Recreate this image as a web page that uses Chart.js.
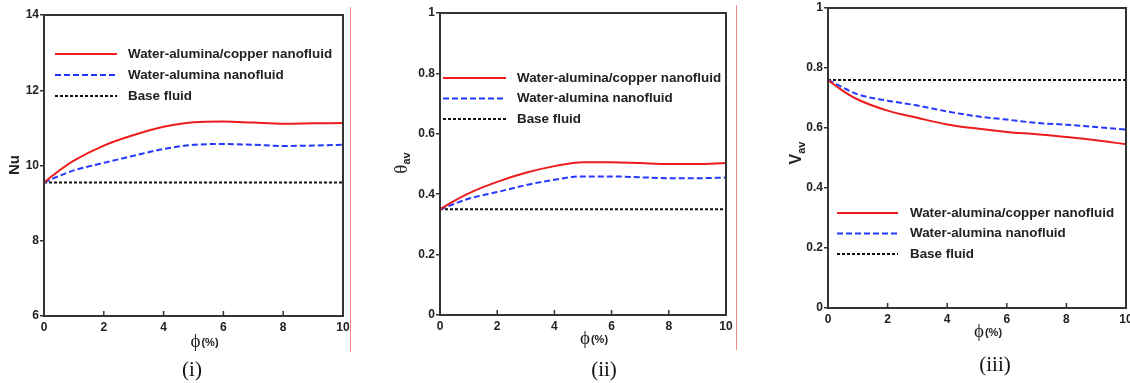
<!DOCTYPE html>
<html><head><meta charset="utf-8">
<script src="https://cdn.jsdelivr.net/npm/chart.js@4/dist/chart.umd.min.js"></script>
<style>
html,body{margin:0;padding:0;background:#fff;width:1130px;height:383px;overflow:hidden;position:relative}
canvas{position:absolute;top:0}
.cap{position:absolute;font-family:"Liberation Serif","Times New Roman",serif;font-size:21px;color:#111;transform:translate(-50%,-50%);white-space:nowrap}
.vline{position:absolute;width:1px;background:#f08a8a}
</style></head><body>
<canvas id="c1" width="370" height="383" style="left:0px"></canvas>
<canvas id="c2" width="370" height="383" style="left:380px"></canvas>
<canvas id="c3" width="370" height="383" style="left:760px"></canvas>
<div class="vline" style="left:350px;top:7px;height:345px"></div>
<div class="vline" style="left:736px;top:5px;height:345px"></div>
<div class="cap" style="left:192px;top:369px">(i)</div>
<div class="cap" style="left:604px;top:369px">(ii)</div>
<div class="cap" style="left:995px;top:364px">(iii)</div>
<script>
// ---- data ----
const phi = [0, 0.5, 1, 2, 3, 4, 5, 6, 7, 8, 9, 10];
const seriesNames = ["Water-alumina/copper nanofluid", "Water-alumina nanofluid", "Base fluid"];
const nuHybrid  = [9.55, 9.86, 10.13, 10.53, 10.81, 11.03, 11.15, 11.17, 11.14, 11.11, 11.12, 11.13];
const nuAlumina = [9.55, 9.72, 9.87, 10.07, 10.26, 10.44, 10.55, 10.57, 10.55, 10.52, 10.53, 10.55];
const nuBase    = [9.55, 9.55, 9.55, 9.55, 9.55, 9.55, 9.55, 9.55, 9.55, 9.55, 9.55, 9.55];
const thHybrid  = [0.35, 0.378, 0.403, 0.441, 0.471, 0.493, 0.506, 0.506, 0.503, 0.500, 0.500, 0.503];
const thAlumina = [0.35, 0.368, 0.385, 0.407, 0.430, 0.448, 0.459, 0.459, 0.456, 0.453, 0.453, 0.455];
const thBase    = [0.35, 0.35, 0.35, 0.35, 0.35, 0.35, 0.35, 0.35, 0.35, 0.35, 0.35, 0.35];
const vHybrid   = [0.76, 0.724, 0.695, 0.658, 0.634, 0.612, 0.598, 0.587, 0.579, 0.570, 0.559, 0.546];
const vAlumina  = [0.76, 0.735, 0.712, 0.691, 0.675, 0.655, 0.639, 0.628, 0.617, 0.611, 0.603, 0.595];
const vBase     = [0.76, 0.76, 0.76, 0.76, 0.76, 0.76, 0.76, 0.76, 0.76, 0.76, 0.76, 0.76];
const xTicks = [0, 2, 4, 6, 8, 10];
const nuTicks = [6, 8, 10, 12, 14];
const unitTicks = [0, 0.2, 0.4, 0.6, 0.8, 1];

const styles = [
  {borderColor:'#ee1c1c', borderWidth:2, borderDash:[]},
  {borderColor:'#2638ff', borderWidth:2, borderDash:[6,3]},
  {borderColor:'#111111', borderWidth:2, borderDash:[3,2]}
];
const SANS = '"Liberation Sans", Arial, sans-serif';
const SERIF = '"Liberation Serif", "Times New Roman", serif';

function pts(ys){ return phi.map((x,i)=>({x:x, y:ys[i]})); }

function makeChart(id, cfg){
  const datasets = cfg.series.map((ys,i)=>Object.assign({
    label: seriesNames[i], data: pts(ys), pointRadius:0, fill:false,
    cubicInterpolationMode:'monotone'
  }, styles[i]));
  const decor = {
    id:'decor',
    afterDraw(chart){
      const ctx = chart.ctx, a = chart.chartArea;
      ctx.save();
      // frame
      ctx.strokeStyle = '#333'; ctx.lineWidth = 2;
      ctx.strokeRect(a.left, a.top, a.right-a.left, a.bottom-a.top);
      // inward x ticks
      ctx.lineWidth = 1.5;
      const xs = chart.scales.x;
      xTicks.forEach(v=>{
        const px = xs.getPixelForValue(v);
        ctx.beginPath(); ctx.moveTo(px, a.bottom); ctx.lineTo(px, a.bottom-5); ctx.stroke();
      });
      // legend
      const L = cfg.legend;
      chart.data.datasets.forEach((ds,i)=>{
        const y = L.y + i*L.dy;
        ctx.strokeStyle = ds.borderColor; ctx.lineWidth = ds.borderWidth;
        ctx.setLineDash(ds.borderDash);
        ctx.beginPath(); ctx.moveTo(L.x1, y); ctx.lineTo(L.x2, y); ctx.stroke();
        ctx.setLineDash([]);
        ctx.fillStyle = '#222'; ctx.font = 'bold 13.4px ' + SANS;
        ctx.textBaseline = 'middle'; ctx.textAlign = 'left';
        ctx.fillText(ds.label, L.tx, y);
      });
      // x title: phi(%)
      const cx = (a.left + a.right)/2 + 11, ty = cfg.xTitleY;
      ctx.fillStyle = '#222'; ctx.textBaseline = 'middle';
      ctx.font = '19px ' + SERIF;
      const w1 = ctx.measureText('\u03D5').width;
      ctx.font = 'bold 11px ' + SANS;
      const w2 = ctx.measureText('(%)').width;
      let sx = cx - (w1 + w2 + 1)/2;
      ctx.textAlign = 'left';
      ctx.font = '19px ' + SERIF; ctx.fillText('\u03D5', sx, ty);
      ctx.font = 'bold 11px ' + SANS; ctx.fillText('(%)', sx + w1 + 1, ty + 1);
      // y title
      ctx.translate(cfg.yTitle.x, cfg.yTitle.y);
      ctx.rotate(-Math.PI/2);
      const t = cfg.yTitle;
      ctx.font = t.mainFont;
      const m1 = ctx.measureText(t.main).width;
      ctx.font = 'bold 11px ' + SANS;
      const m2 = t.sub ? ctx.measureText(t.sub).width : 0;
      let ox = -(m1 + m2)/2;
      ctx.textAlign = 'left';
      ctx.font = t.mainFont; ctx.fillText(t.main, ox, 0);
      if (t.sub){ ctx.font = 'bold 11px ' + SANS; ctx.fillText(t.sub, ox + m1, 5); }
      ctx.restore();
    }
  };
  return new Chart(document.getElementById(id), {
    type:'line',
    data:{datasets},
    plugins:[decor],
    options:{
      responsive:false, animation:false,
      layout:{padding:{left:0, top:cfg.area.top, right:370-cfg.area.right, bottom:0}},
      plugins:{legend:{display:false}, tooltip:{enabled:false}},
      scales:{
        x:{type:'linear', min:0, max:10,
           afterBuildTicks(s){ s.ticks = xTicks.map(v=>({value:v})); },
           grid:{display:false, drawTicks:false}, border:{display:false},
           ticks:{padding:4, color:'#222', font:{family:SANS, size:12, weight:'bold'}, maxRotation:0, autoSkip:false,
                  callback:v=>String(v)},
           afterFit(s){ s.height = 383 - cfg.area.bottom; s.paddingLeft = 0; s.paddingRight = 0; }
        },
        y:{type:'linear', min:cfg.yMin, max:cfg.yMax,
           afterBuildTicks(s){ s.ticks = cfg.yTicks.map(v=>({value:v})); },
           grid:{drawOnChartArea:false, drawTicks:true, tickLength:4, color:'#333', lineWidth:1.5},
           border:{display:false},
           ticks:{padding:1, color:'#222', font:{family:SANS, size:12, weight:'bold'}, autoSkip:false,
                  callback:v=>String(Math.round(v*10)/10)},
           afterFit(s){ s.width = cfg.area.left; s.paddingTop = 0; s.paddingBottom = 0; }
        }
      }
    }
  });
}

makeChart('c1', {
  series:[nuHybrid, nuAlumina, nuBase], yMin:6, yMax:14, yTicks:nuTicks,
  area:{left:44, top:15, right:343, bottom:316},
  legend:{x1:55, x2:117, tx:128, y:54, dy:21},
  xTitleY:342,
  yTitle:{x:15, y:165, main:'Nu', mainFont:'bold 15px ' + SANS, sub:''}
});
makeChart('c2', {
  series:[thHybrid, thAlumina, thBase], yMin:0, yMax:1, yTicks:unitTicks,
  area:{left:60, top:13, right:346, bottom:315},
  legend:{x1:63, x2:126, tx:137, y:78, dy:20.5},
  xTitleY:339,
  yTitle:{x:22, y:163, main:'\u03B8', mainFont:'19px ' + SERIF, sub:'av'}
});
makeChart('c3', {
  series:[vHybrid, vAlumina, vBase], yMin:0, yMax:1, yTicks:unitTicks,
  area:{left:68, top:8, right:366, bottom:308},
  legend:{x1:77, x2:138, tx:150, y:213, dy:20.5},
  xTitleY:332,
  yTitle:{x:37, y:153, main:'V', mainFont:'bold 16px ' + SANS, sub:'av'}
});
</script>
</body></html>
